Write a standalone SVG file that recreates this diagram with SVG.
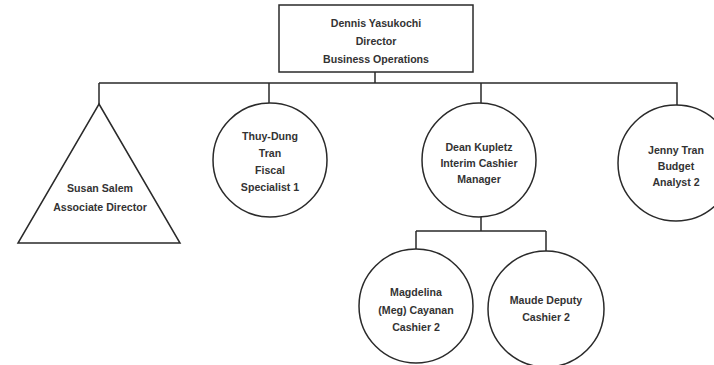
<svg xmlns="http://www.w3.org/2000/svg" width="714" height="365" viewBox="0 0 714 365">
<style>
.s{fill:#fff;stroke:#2a2a2a;stroke-width:1.5}
.c{fill:none;stroke:#2a2a2a;stroke-width:1.5}
text{font-family:"Liberation Sans",Arial,sans-serif;font-size:10.6px;font-weight:bold;fill:#333;text-anchor:middle}
</style>
<rect width="714" height="365" fill="#fff"/>
<g id="connectors">
<path class="c" d="M375,72V83M99,83H677V105M99,83V104M269,83V103M481,83V103M481,217V231M416,231H546M416,231V249M546,231V251"/>
</g>
<g id="dennis">
<rect class="s" x="279" y="5" width="194" height="67"/>
<text x="376" y="27">Dennis Yasukochi</text>
<text x="376" y="45">Director</text>
<text x="376" y="63">Business Operations</text>
</g>
<g id="susan">
<polygon class="s" points="99,104 180,243 18,243"/>
<text x="100" y="192">Susan Salem</text>
<text x="100" y="211">Associate Director</text>
</g>
<g id="thuy">
<circle class="s" cx="270" cy="160" r="57"/>
<text x="270" y="140">Thuy-Dung</text>
<text x="270" y="157">Tran</text>
<text x="270" y="174">Fiscal</text>
<text x="270" y="191">Specialist 1</text>
</g>
<g id="dean">
<circle class="s" cx="479" cy="160" r="57"/>
<text x="479" y="151">Dean Kupletz</text>
<text x="479" y="167">Interim Cashier</text>
<text x="479" y="183">Manager</text>
</g>
<g id="jenny">
<circle class="s" cx="676" cy="163" r="58"/>
<text x="676" y="154">Jenny Tran</text>
<text x="676" y="170">Budget</text>
<text x="676" y="186">Analyst 2</text>
</g>
<g id="magdelina">
<circle class="s" cx="416" cy="306" r="57"/>
<text x="416" y="296">Magdelina</text>
<text x="416" y="314">(Meg) Cayanan</text>
<text x="416" y="331">Cashier 2</text>
</g>
<g id="maude">
<circle class="s" cx="546" cy="309" r="58"/>
<text x="546" y="304">Maude Deputy</text>
<text x="546" y="321">Cashier 2</text>
</g>
</svg>
